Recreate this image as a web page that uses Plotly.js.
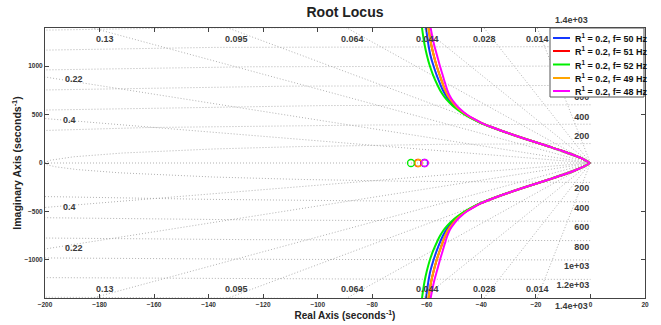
<!DOCTYPE html>
<html><head><meta charset="utf-8">
<script src="https://cdn.plot.ly/plotly-3.0.1.min.js"></script>
<style>html,body{margin:0;padding:0;background:#fff}</style>
</head><body><div id="chart" style="width:661px;height:325px"></div>
<script>
// ---- data ----
const seriesNames = ['R<sup>1</sup> = 0.2, f= 50 Hz', 'R<sup>1</sup> = 0.2, f= 51 Hz', 'R<sup>1</sup> = 0.2, f= 52 Hz', 'R<sup>1</sup> = 0.2, f= 49 Hz', 'R<sup>1</sup> = 0.2, f= 48 Hz'];
const seriesColors = ['#1438ff', '#ff0000', '#00ee00', '#ffa500', '#ff00ff'];
// imaginary parts of the upper branch (lower branch is its complex conjugate)
const locusImag = [0, 41, 82, 124, 165, 206, 247, 289, 330, 371, 412, 454, 495, 536, 577, 619, 660, 701, 753, 804, 907, 1010, 1114, 1217, 1320, 1423];
// real parts of each branch point
const realF50 = [-0.35, -2.7, -6.2, -10.25, -14.65, -19.2, -23.8, -28.2, -32.45, -36.4, -40.05, -43.1, -45.6, -47.7, -49.5, -50.9, -52.15, -53.15, -54.15, -54.95, -56.4, -57.65, -58.7, -59.4, -59.95, -60.45];
const realF51 = [-0.35, -2.7, -6.2, -10.25, -14.65, -19.2, -23.8, -28.2, -32.4, -36.35, -39.9, -42.9, -45.35, -47.35, -49.05, -50.35, -51.5, -52.45, -53.3, -54.0, -55.3, -56.5, -57.5, -58.35, -59.0, -59.5];
const realF52 = [-0.35, -2.7, -6.2, -10.25, -14.65, -19.2, -23.8, -28.25, -32.5, -36.5, -40.2, -43.3, -45.9, -48.1, -50.0, -51.55, -52.9, -54.05, -55.2, -56.1, -57.7, -59.0, -60.0, -60.8, -61.4, -61.9];
const realF49 = [-0.35, -2.7, -6.2, -10.25, -14.65, -19.2, -23.8, -28.2, -32.4, -36.35, -39.9, -42.9, -45.35, -47.35, -49.05, -50.35, -51.5, -52.45, -53.3, -54.0, -55.3, -56.5, -57.5, -58.35, -59.0, -59.5];
const realF48 = [-0.35, -2.7, -6.2, -10.25, -14.65, -19.2, -23.8, -28.2, -32.4, -36.3, -39.8, -42.7, -45.1, -47.0, -48.6, -49.85, -50.9, -51.75, -52.5, -53.1, -54.2, -55.3, -56.3, -57.3, -58.1, -58.8];
const seriesReal = [realF50, realF51, realF52, realF49, realF48];
// zeros on the real axis
const zeroReal = [-60.9, -63.3, -65.8, -63.0, -60.7];

// grid (sgrid) values and labels
const dampingValues = [0.014, 0.028, 0.044, 0.064, 0.095, 0.13, 0.22, 0.4];
const dampingLabels = ['0.014', '0.028', '0.044', '0.064', '0.095', '0.13', '0.22', '0.4'];
const wnValues = [200, 400, 600, 800, 1000, 1200, 1400];
const wnLabels = ['200', '400', '600', '800', '1e+03', '1.2e+03', '1.4e+03'];
const wnUpperShown = [true, true, true, false, false, false, true]; // 800..1.2e+03 sit under the legend
const xTicks = [-200, -180, -160, -140, -120, -100, -80, -60, -40, -20, 0, 20];
const yTicks = [-1000, -500, 0, 500, 1000];

// ---- layout helpers (pixel geometry of the plot area) ----
const PL = 45, PR = 645, PT = 28, PB = 298;
const X_MIN = -200, X_MAX = 20, Y_MAX = 1392;
const px2paperX = p => (p - PL) / (PR - PL);
const px2paperY = p => (PB - p) / (PB - PT);
const FONT = 'Liberation Sans, Arial, sans-serif';
const gridStyle = {color: '#a8a8a8', width: 0.9, dash: '1px,2px'};
const labelFont = {family: FONT, size: 9, color: '#3a3a3a', weight: 'bold'};

const traces = [];

// wn circles
const cx = [], cy = [];
wnValues.forEach(r => {
  const n = 900;
  for (let i = 0; i <= n; i++) {
    const phi = Math.PI * i / n;
    cx.push(-r * Math.sin(phi)); cy.push(r * Math.cos(phi));
  }
  cx.push(null); cy.push(null);
});
traces.push({x: cx, y: cy, mode: 'lines', line: gridStyle, hoverinfo: 'skip', showlegend: false});

// damping rays + real axis
const rx = [], ry = [];
dampingValues.forEach(z => {
  const s = Math.sqrt(1 - z * z), L = 3000;
  rx.push(0, -z * L, null, 0, -z * L, null);
  ry.push(0, s * L, null, 0, -s * L, null);
});
rx.push(X_MIN, X_MAX); ry.push(0, 0);
traces.push({x: rx, y: ry, mode: 'lines', line: gridStyle, hoverinfo: 'skip', showlegend: false});

// wn labels (right-aligned at the imaginary axis); those beyond the frame become paper annotations
const annotations = [];
const wnX = [], wnY = [], wnT = [];
const labelX = -0.4;
wnValues.forEach((r, i) => {
  const yUp = r + 70, yDn = -(r + 70);
  if (yUp < Y_MAX) {
    if (wnUpperShown[i]) { wnX.push(labelX); wnY.push(yUp); wnT.push(wnLabels[i]); }
    wnX.push(labelX); wnY.push(yDn); wnT.push(wnLabels[i]);
  } else {
    [yUp, yDn].forEach(yy => annotations.push({
      x: (labelX - X_MIN) / (X_MAX - X_MIN) + 1 / 600, y: 0.5 + yy / (2 * Y_MAX),
      xref: 'paper', yref: 'paper', xanchor: 'right', yanchor: 'middle',
      text: wnLabels[i], showarrow: false, font: labelFont}));
  }
});
traces.push({x: wnX, y: wnY, text: wnT, mode: 'text', textposition: 'middle left',
  textfont: labelFont, cliponaxis: false, hoverinfo: 'skip', showlegend: false});

// locus branches
seriesReal.forEach((re, i) => {
  const x = re.slice().reverse().concat(re.slice(1));
  const y = locusImag.slice().reverse().concat(locusImag.slice(1).map(v => -v));
  traces.push({x: x, y: y, mode: 'lines', name: seriesNames[i],
    line: {color: seriesColors[i], width: 2, shape: 'spline', smoothing: 0.6}, showlegend: false});
});
// zeros
seriesReal.forEach((re, i) => {
  traces.push({x: [zeroReal[i]], y: [0], mode: 'markers', showlegend: false,
    marker: {symbol: 'circle-open', size: 7, color: seriesColors[i], line: {width: 1.3, color: seriesColors[i]}}});
});

// damping label positions (where rays meet the frame)
const dampPos = {
  '0.13': [[-178.0, 1282], [-178.0, -1303]],
  '0.095': [[-129.9, 1282], [-129.9, -1303]],
  '0.064': [[-87.4, 1282], [-87.4, -1303]],
  '0.044': [[-59.9, 1282], [-59.9, -1303]],
  '0.028': [[-38.7, 1282], [-38.7, -1303]],
  '0.014': [[-19.6, 1282], [-19.6, -1303]],
  '0.22': [[-189.5, 866], [-189.5, -876]],
  '0.4': [[-191.0, 443], [-191.0, -454]]
};
dampingLabels.forEach(lbl => {
  dampPos[lbl].forEach(p => annotations.push({x: p[0], y: p[1], xref: 'x', yref: 'y', text: lbl,
    showarrow: false, font: labelFont}));
});

// compact legend box (matches the reference)
const shapes = [{type: 'rect', xref: 'paper', yref: 'paper', layer: 'above',
  x0: px2paperX(550), x1: px2paperX(644), y0: px2paperY(97), y1: px2paperY(28),
  fillcolor: '#ffffff', line: {color: '#555', width: 1}}];
const rows = [38, 51, 64.5, 78, 91];
seriesNames.forEach((nm, i) => {
  shapes.push({type: 'line', xref: 'paper', yref: 'paper', layer: 'above',
    x0: px2paperX(553), x1: px2paperX(570), y0: px2paperY(rows[i]), y1: px2paperY(rows[i]),
    line: {color: seriesColors[i], width: 2}});
  annotations.push({xref: 'paper', yref: 'paper', x: px2paperX(572.5), y: px2paperY(rows[i]),
    xanchor: 'left', yanchor: 'middle', text: nm, showarrow: false,
    font: {family: FONT, size: 9, color: '#111', weight: 'bold'}});
});

const axisCommon = {ticks: 'inside', ticklen: 4, tickcolor: '#444', showline: true, linecolor: '#444',
  linewidth: 1, mirror: 'ticks', showgrid: false, zeroline: false,
  tickfont: {family: FONT, size: 6.5, color: '#333', weight: 'bold'}};

const layout = {
  width: 661, height: 325, paper_bgcolor: '#fff', plot_bgcolor: '#fff',
  margin: {l: PL, r: 661 - PR, t: PT, b: 325 - PB},
  title: {text: 'Root Locus', x: 0.5, xref: 'paper', y: 1 - 12 / 325, yref: 'container', yanchor: 'middle',
    font: {family: FONT, size: 14, color: '#222', weight: 'bold'}},
  xaxis: Object.assign({}, axisCommon, {range: [X_MIN, X_MAX], tickmode: 'array', tickvals: xTicks,
    title: {text: 'Real Axis (seconds<sup>-1</sup>)', standoff: 5, font: {family: FONT, size: 10, color: '#222', weight: 'bold'}}}),
  yaxis: Object.assign({}, axisCommon, {range: [-Y_MAX, Y_MAX], tickmode: 'array', tickvals: yTicks,
    title: {text: 'Imaginary Axis (seconds<sup>-1</sup>)', standoff: 0, font: {family: FONT, size: 10.5, color: '#222', weight: 'bold'}}}),
  showlegend: false, shapes: shapes, annotations: annotations
};

Plotly.newPlot('chart', traces, layout, {displayModeBar: false, staticPlot: true});
</script></body></html>
